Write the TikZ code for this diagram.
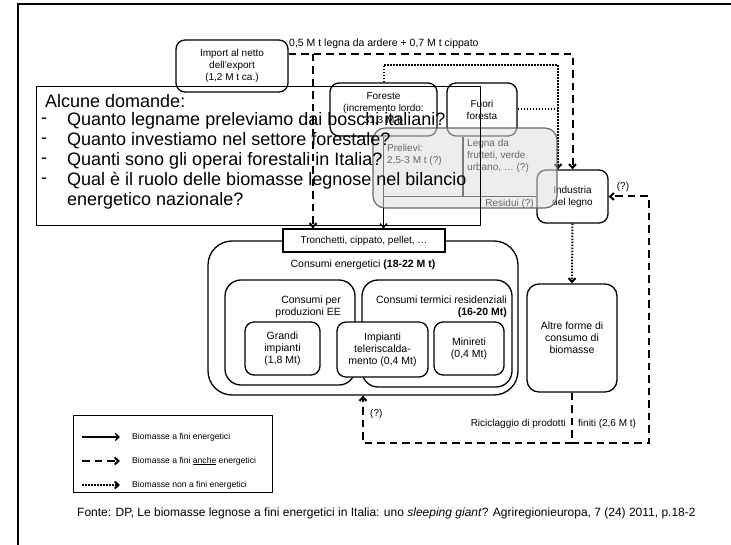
\documentclass[tikz,border=0pt]{standalone}
\usepackage{fontspec}
\setmainfont{Liberation Sans}
\usetikzlibrary{arrows.meta,calc,positioning}

\begin{document}
\begin{tikzpicture}[x=1pt,y=-1pt,>={Straight Barb[length=3.8pt,width=7pt]}]
	\path [use as bounding box] (0,0) rectangle (731,545);
	\tikzstyle{rbox} = [draw, line width=1.3pt, rounded corners=9pt, fill=white, align=center, font=\fontsize{10}{12}\selectfont, inner sep=0pt]
	\tikzstyle{txt} = [align=center, font=\fontsize{10}{12}\selectfont, inner sep=0pt]
	\tikzstyle{big} = [font=\fontsize{10.5}{12}\selectfont]
	\tikzstyle{grey} = [txt, align=left, text=black!60]
	\tikzstyle{ask} = [inner sep=0pt, font=\fontsize{18}{20}\selectfont]
	\tikzstyle{lgd} = [inner sep=0pt, font=\fontsize{8.6}{10}\selectfont]
	\tikzstyle{energy} = [line width=1.3pt]
	\tikzstyle{partly} = [line width=2pt, dash pattern=on 7.5pt off 5pt]
	\tikzstyle{nonenergy} = [line width=2pt, dash pattern=on 1.5pt off 1.5pt]
	% frame of the slide
	\draw[line width=2.5pt] (18,545) -- (18,4) -- (731,4);
	% sources
	\node[rbox, minimum width=112pt, minimum height=52pt] (imp) at (232,66) {Import al netto\\dell'export\\(1,2 M t ca.)};
	\node[rbox, minimum width=107pt, minimum height=53pt] (fore) at (383.5,109.5) {Foreste\\(incremento lordo:\\31,3 M t)};
	\node[rbox, minimum width=70pt, minimum height=53pt] (fuo) at (482,109.5) {Fuori\\foresta};
	\node[rbox, minimum width=71pt, minimum height=53pt] (ind) at (572.5,196.5) {Industria\\del legno};
	\node[rbox, big, minimum width=90pt, minimum height=108pt, rounded corners=12pt] (alt) at (572,338) {Altre forme di\\consumo di\\biomasse};
	% consumi
	\node[rbox, rounded corners=24pt, minimum width=310pt, minimum height=154pt] (cen) at (363,318) {};
	\node[txt, big] (cenl) at (363,265) {Consumi energetici \textbf{(18-22 M t)}};
	\node[draw, fill=white, line width=1.3pt, minimum width=162pt, minimum height=23pt, txt] (tron) at (364,240.5) {Tronchetti, cippato, pellet, …};
	\node[rbox, rounded corners=16pt, minimum width=130pt, minimum height=105pt] (ee) at (290,332.5) {};
	\node[rbox, rounded corners=16pt, minimum width=150pt, minimum height=107pt] (term) at (437,333.5) {};
	\node[txt, big, anchor=north east, align=right] (eel) at (341,296) {Consumi per\\produzioni EE};
	\node[txt, big, anchor=north east, align=right] (terml) at (507,296) {Consumi termici residenziali\\\textbf{(16-20 Mt)}};
	\node[rbox, big, minimum width=75pt, minimum height=53pt] (gra) at (282.5,348.5) {Grandi\\impianti\\(1,8 Mt)};
	\node[rbox, big, minimum width=70pt, minimum height=53pt] (mini) at (469,348.5) {Minireti\\(0,4 Mt)};
	\node[rbox, big, minimum width=91pt, minimum height=55pt] (tel) at (382.5,349.5) {Impianti\\teleriscalda-\\mento (0,4 Mt)};
	% flows
	\coordinate (split) at (313,54);
	\coordinate (dotc) at (558,65);
	\coordinate (res) at (fore.south |- ind.west);
	\draw[energy,->] (fore.south) -- (fore.south |- tron.north);
	\draw[energy] ($(fuo.south)+(-19,0)$) |- (res);
	\draw[energy] (ind.west) -- (res);
	\draw[partly,->] (imp.east |- split) -- (ind.north |- split) -- (ind.north);
	\draw[partly,->] (split) -- (split |- tron.north);
	\node[txt, big, anchor=south west] (impl) at (289,49) {0,5 M t legna da ardere + 0,7 M t cippato};
	\draw[nonenergy,->] (fore.north) |- (dotc) -- (dotc |- ind.north);
	\draw[nonenergy] (fuo.east) -- (fuo.east -| dotc);
	\draw[nonenergy,->] (ind.south) -- (alt.north);
	% prelievi
	\node[draw=black!60, line width=1.2pt, rounded corners=12pt, fill=gray!25, fill opacity=0.55, minimum width=184pt, minimum height=80pt] (pre) at (465,168) {};
	\node[grey, anchor=north west] (prel) at (387,144) {Prelievi:\\2,5-3 M t (?)};
	\node[grey, anchor=north west] (legn) at (467,139) {Legna da\\frutteti, verde\\urbano, … (?)};
	\node[grey, anchor=south east] (resi) at (534,209) {Residui (?)};
	% riciclaggio
	\coordinate (rc) at (649,443);
	\coordinate (lc) at (363,443);
	\draw[partly,->] (alt.south) |- (rc) |- (ind.east);
	\draw[partly,->] (alt.south |- rc) -- (lc) -- (lc |- cen.south);
	\node[txt] (q1) at (623,187) {(?)};
	\node[txt, anchor=west] (q2) at (370,414) {(?)};
	\node[txt, anchor=east] (ric) at (566,424) {Riciclaggio di prodotti};
	\node[txt, anchor=west] (fin) at (578,424) {finiti (2,6 M t)};
	% domande
	\draw[line width=0.6pt] (36,86) rectangle (480,225);
	\node[ask, anchor=west] (ask0) at (45,101) {Alcune domande:};
	\foreach \k/\q in {1/Quanto legname preleviamo dai boschi italiani?, 2/Quanto investiamo nel settore forestale?, 3/Quanti sono gli operai forestali in Italia?, 4/Qual è il ruolo delle biomasse legnose nel bilancio} {
		\node[ask, anchor=west] (dash\k) at (41,101+20*\k) {-};
		\node[ask, anchor=west] (ask\k) at (67,101+20*\k) {\q};
	}
	\node[ask, anchor=west] (ask5) at (67,201) {energetico nazionale?};
	% legenda
	\draw[line width=0.8pt] (73,415) rectangle (272,492);
	\coordinate (l1) at (82,437);
	\coordinate (l2) at (82,461);
	\coordinate (l3) at (82,485);
	\draw[energy,->] (l1) -- ++(38,0);
	\draw[partly,->] (l2) -- ++(38,0);
	\draw[nonenergy,->] (l3) -- ++(38,0);
	\node[lgd, anchor=west] (lg1) at (132,437) {Biomasse a fini energetici};
	\node[lgd, anchor=west] (lg2) at (132,461) {Biomasse a fini \underline{anche} energetici};
	\node[lgd, anchor=west] (lg3) at (132,485) {Biomasse non a fini energetici};
	\node[anchor=west, inner sep=0pt, font=\fontsize{12}{14}\selectfont] (src) at (77,513) {Fonte: DP, Le biomasse legnose a fini energetici in Italia: uno \textit{sleeping giant}? Agriregionieuropa, 7 (24) 2011, p.18-2};
\end{tikzpicture}
\end{document}
